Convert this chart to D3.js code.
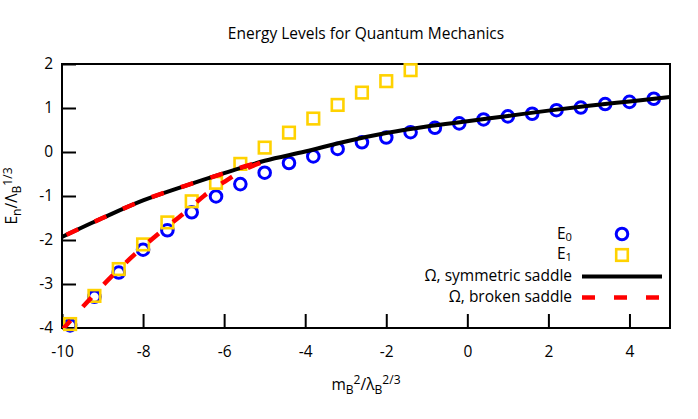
<!DOCTYPE html>
<html>
<head>
<meta charset="utf-8">
<script src="https://cdn.jsdelivr.net/npm/d3@7"></script>
<style>
  html, body { margin: 0; padding: 0; background: #fff; }
  svg { display: block; font-family: "Open Sans", "Noto Sans", sans-serif; }
</style>
</head>
<body>
<svg id="chart" width="698" height="419"></svg>
<script>
// ---- data ----
const xPts = [-9.8, -9.2, -8.6, -8.0, -7.4, -6.8, -6.2, -5.6, -5.0, -4.4, -3.8, -3.2, -2.6,
              -2.0, -1.4, -0.8, -0.2, 0.4, 1.0, 1.6, 2.2, 2.8, 3.4, 4.0, 4.6];
const e0 = [-3.94, -3.29, -2.74, -2.22, -1.78, -1.37, -1.01, -0.73, -0.47, -0.25, -0.10, 0.07, 0.22,
            0.33, 0.45, 0.55, 0.65, 0.74, 0.81, 0.87, 0.95, 1.01, 1.09, 1.14, 1.21];
const e1 = [-3.91, -3.27, -2.66, -2.10, -1.60, -1.12, -0.70, -0.27, 0.10, 0.44, 0.76, 1.07, 1.35,
            1.61, 1.86];
const symX = [-10, -9, -8, -7, -6, -5, -4, -3, -2, -1, 0, 1, 2, 3, 4, 5];
const symY = [-1.93, -1.50, -1.10, -0.78, -0.48, -0.20, 0.01, 0.24, 0.43, 0.58, 0.70, 0.82, 0.94, 1.05, 1.15, 1.25];
// broken saddle: lower branch (rising), then back along the upper branch
const brokenX = [-10.0, -9.4, -8.8, -8.2, -7.6, -7.0, -6.5, -6.0, -5.5, -5.0,
                 -5.5, -6.0, -7.0, -8.0, -9.0, -10.0];
const brokenY = [-4.05, -3.43, -2.85, -2.32, -1.84, -1.40, -1.00, -0.68, -0.40, -0.20,
                 -0.33, -0.48, -0.78, -1.10, -1.50, -1.93];
const xTicks = [-10, -8, -6, -4, -2, 0, 2, 4];
const yTicks = [-4, -3, -2, -1, 0, 1, 2];
const legendLabels = ["E0", "E1", "Ω, symmetric saddle", "Ω, broken saddle"];

// ---- layout ----
const svg = d3.select("#chart");
const L = 62, R = 670, T = 64, B = 328;
const x = d3.scaleLinear().domain([-10, 5]).range([L, R]);
const y = d3.scaleLinear().domain([-4, 2]).range([B, T]);
const FS = 15.5;

svg.append("defs").append("clipPath").attr("id", "clip")
  .append("rect").attr("x", L).attr("y", T).attr("width", R - L).attr("height", B - T);

// axes (ticks inward)
const xAxis = d3.axisBottom(x).tickValues(xTicks).tickSizeInner(-14).tickSizeOuter(0).tickPadding(18)
  .tickFormat(d => d < 0 ? "-" + Math.abs(d) : String(d));
const yAxis = d3.axisLeft(y).tickValues(yTicks).tickSizeInner(-14).tickSizeOuter(0).tickPadding(9)
  .tickFormat(d => d < 0 ? "-" + Math.abs(d) : String(d));

const gx = svg.append("g").attr("transform", `translate(0,${B})`).call(xAxis);
const gy = svg.append("g").attr("transform", `translate(${L},0)`).call(yAxis);
[gx, gy].forEach(g => {
  g.select(".domain").remove();
  g.selectAll(".tick line").attr("stroke", "#000").attr("stroke-width", 2);
  g.selectAll(".tick text").attr("fill", "#000").style("font-size", FS + "px")
    .style("font-family", '"Open Sans", "Noto Sans", sans-serif');
});

// border
svg.append("rect").attr("x", L).attr("y", T).attr("width", R - L).attr("height", B - T)
  .attr("fill", "none").attr("stroke", "#000").attr("stroke-width", 2);

// points E0
const c0 = "#0000ff", c1 = "#ffd200";
svg.append("g").selectAll("circle").data(e0).join("circle")
  .attr("cx", (d, i) => x(xPts[i])).attr("cy", d => y(d)).attr("r", 5.8)
  .attr("fill", "none").attr("stroke", c0).attr("stroke-width", 3);
// points E1
const sq = 11.6;
svg.append("g").selectAll("rect").data(e1).join("rect")
  .attr("x", (d, i) => x(xPts[i]) - sq / 2).attr("y", d => y(d) - sq / 2)
  .attr("width", sq).attr("height", sq)
  .attr("fill", "none").attr("stroke", c1).attr("stroke-width", 2.6);

// lines
const symLine = d3.line().x((d, i) => x(symX[i])).y(d => y(d)).curve(d3.curveMonotoneX);
svg.append("path").datum(symY).attr("clip-path", "url(#clip)")
  .attr("d", symLine).attr("fill", "none").attr("stroke", "#000").attr("stroke-width", 4);

const brLine = d3.line().x((d, i) => x(brokenX[i])).y(d => y(d)).curve(d3.curveCatmullRom);
svg.append("path").datum(brokenY).attr("clip-path", "url(#clip)")
  .attr("d", brLine).attr("fill", "none").attr("stroke", "#ff0000").attr("stroke-width", 4.5)
  .attr("stroke-dasharray", "13,18");

// title
svg.append("text").attr("x", (L + R) / 2).attr("y", 39).attr("text-anchor", "middle")
  .style("font-size", FS + "px").attr("fill", "#000").text("Energy Levels for Quantum Mechanics");

// helper for sub/superscripts
function rich(sel, parts, scale) {
  parts.forEach(p => {
    const t = sel.append("tspan").text(p.t);
    if (p.s) t.style("font-size", (FS * (scale || 0.78)) + "px");
    if (p.dy) t.attr("dy", p.dy);
  });
}

// x label
const xl = svg.append("text").attr("x", (L + R) / 2).attr("y", 390).attr("text-anchor", "middle")
  .style("font-size", FS + "px").attr("fill", "#000");
rich(xl, [{t: "m"}, {t: "B", s: 1, dy: 4}, {t: "2", s: 1, dy: -10}, {t: "/λ", dy: 6},
          {t: "B", s: 1, dy: 4}, {t: "2/3", s: 1, dy: -10}]);

// y label
const yl = svg.append("text").attr("transform", `translate(17,${(T + B) / 2}) rotate(-90)`)
  .attr("text-anchor", "middle").style("font-size", FS + "px").attr("fill", "#000");
rich(yl, [{t: "E"}, {t: "n", s: 1, dy: 4}, {t: "/Λ", dy: -4}, {t: "B", s: 1, dy: 4},
          {t: "1/3", s: 1, dy: -9}]);

// legend
const lgX = 572, symCx = 622, lineX0 = 582, lineX1 = 662;
const lgBase = [238.5, 258.5, 281, 302];
const leg = svg.append("g");
legendLabels.forEach((lab, i) => {
  const t = leg.append("text").attr("x", lgX).attr("y", lgBase[i]).attr("text-anchor", "end")
    .style("font-size", FS + "px").attr("fill", "#000");
  if (i < 2) rich(t, [{t: "E"}, {t: lab.slice(1), s: 1, dy: 2.5}], 0.72);
  else t.text(lab);
});
leg.append("circle").attr("cx", symCx).attr("cy", lgBase[0] - 4.5).attr("r", 5.8)
  .attr("fill", "none").attr("stroke", c0).attr("stroke-width", 3);
leg.append("rect").attr("x", symCx - sq / 2).attr("y", lgBase[1] - 3.5 - sq / 2).attr("width", sq).attr("height", sq)
  .attr("fill", "none").attr("stroke", c1).attr("stroke-width", 2.6);
leg.append("line").attr("x1", lineX0).attr("x2", lineX1).attr("y1", lgBase[2] - 4.5).attr("y2", lgBase[2] - 4.5)
  .attr("stroke", "#000").attr("stroke-width", 4);
leg.append("line").attr("x1", lineX0).attr("x2", lineX1).attr("y1", lgBase[3] - 4.5).attr("y2", lgBase[3] - 4.5)
  .attr("stroke", "#ff0000").attr("stroke-width", 4.5).attr("stroke-dasharray", "13,19");
</script>
</body>
</html>
